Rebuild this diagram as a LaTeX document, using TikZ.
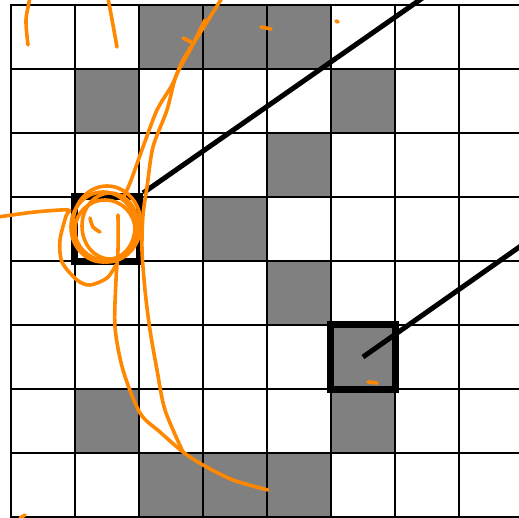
\documentclass[tikz,border=0pt]{standalone}
\usetikzlibrary{positioning}
\definecolor{cellgray}{RGB}{128,128,128}
\definecolor{penorange}{RGB}{255,136,0}

\begin{document}
\begin{tikzpicture}[x=1pt,y=-1pt,
 grid line/.style={line width=2.4pt,line cap=rect},
 focus/.style={draw,line width=7pt,minimum size=65pt,inner sep=0pt},
 pointer/.style={line width=5pt},
 ink/.style={draw=penorange,line width=3.6pt,line cap=round,line join=round}]
\clip (0,0) rectangle (519,518);
\fill[white] (0,0) rectangle (519,518);
% shaded cells (column/row)
\foreach \c/\r in {2/0,3/0,4/0,1/1,5/1,4/2,3/3,4/4,5/5,1/6,5/6,2/7,3/7,4/7}
 \fill[cellgray] (11+64*\c,5+64*\r) rectangle ++(64,64);
\foreach \k in {0,...,8} {
 \draw[grid line] (11+64*\k,5) -- (11+64*\k,517);
 \draw[grid line] (11,5+64*\k) -- (523,5+64*\k);
}
% highlighted cells and their pointers
\node[focus] (focusA) at (107,229) {};
\node[focus] (focusB) at (363,357) {};
\coordinate (tipA) at (434,-10);
\coordinate (tipB) at (535,236);
\draw[pointer] (focusA.north east) -- (tipA);
\draw[pointer] (focusB.center) -- (tipB);
% orange pen strokes
\draw[ink] plot[smooth] coordinates {(30,-2) (26,20) (28,45)};
\draw[ink] plot[smooth] coordinates {(108,-2) (113,25) (117,47)};
\draw[ink] (183,38) -- (191,42);
\draw[ink] (261,27) -- (271,29);
\draw[ink] (336,21) -- (338,22);
\draw[ink] (368,382) -- (377,383);
\draw[ink] (20,518) -- (25,515);
\draw[ink] plot[smooth] coordinates {(222,-2) (200,33) (183,60) (172,85) (157,110) (143,147) (130,183) (122,200)};
\draw[ink] plot[smooth] coordinates {(205,20) (190,50) (176,76) (167,110) (153,147) (147,187) (143,215) (142,250) (145,290) (150,330) (157,370) (165,410) (183,452)};
\draw[ink] plot[smooth] coordinates {(118,215) (118,250) (116,280) (115,327) (123,370) (140,413) (160,432) (183,452) (203,465) (233,480) (268,490)};
\draw[ink] plot[smooth] coordinates {(-2,217) (35,212) (68,210) (66,216) (60,240) (62,262) (77,280) (90,285) (107,278) (116,265)};
\draw[ink] plot[smooth] coordinates {(90,218) (93,227) (100,232)};
\draw[ink] (107,224) ellipse[x radius=34,y radius=38];
\draw[ink] (105,230) ellipse[x radius=30,y radius=30];
\draw[ink] (110,226) ellipse[x radius=28,y radius=33];
\draw[ink] (103,227) ellipse[x radius=32,y radius=35];
\end{tikzpicture}
\end{document}
